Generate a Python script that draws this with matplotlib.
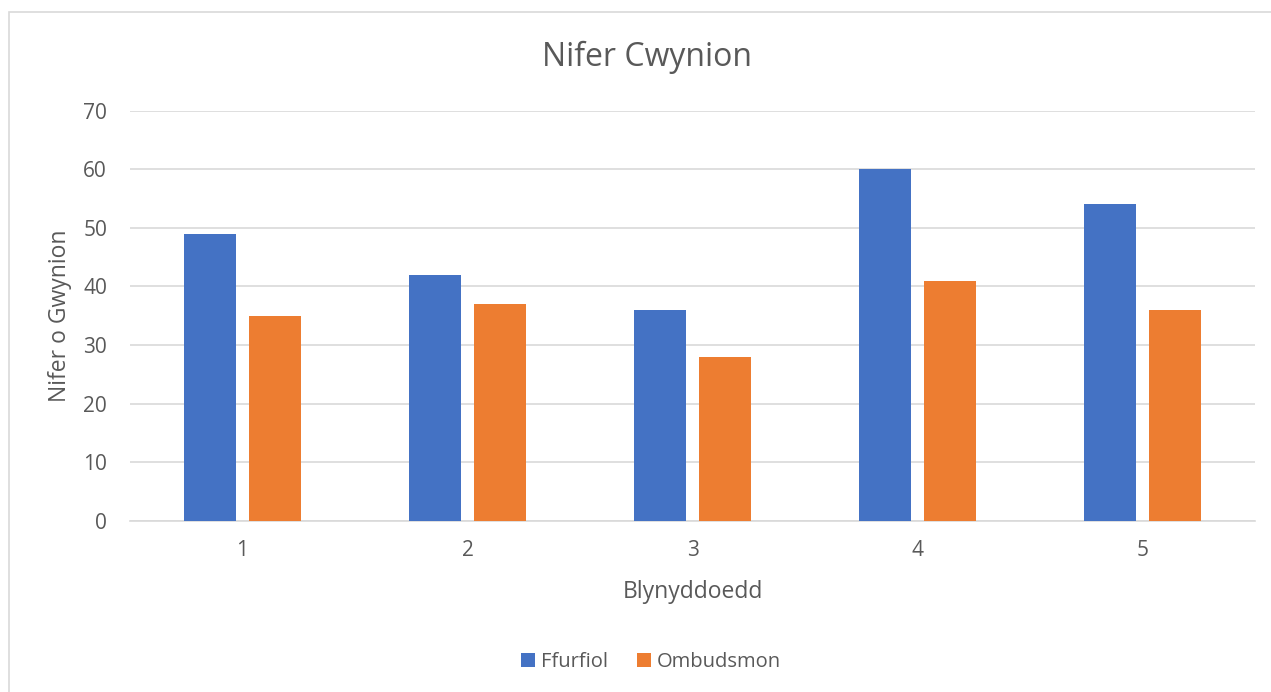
import matplotlib.pyplot as plt
import numpy as np
from matplotlib.patches import Rectangle

plt.rcParams["font.family"] = ["Open Sans", "DejaVu Sans"]

years = ["1", "2", "3", "4", "5"]
ffurfiol = [49, 42, 36, 60, 54]
ombudsmon = [35, 37, 28, 41, 36]
y_ticks = [0, 10, 20, 30, 40, 50, 60, 70]

BLUE = "#4472C4"
ORANGE = "#ED7D31"
GRID = "#D9D9D9"
TEXT = "#595959"

W, H = 1271, 692
fig = plt.figure(figsize=(W / 100, H / 100), dpi=100)

# chart frame (cut off on right/bottom like the reference)
fig.patches.append(
    Rectangle((9 / W, -0.1), 1.2, 1 - 12 / H + 0.1, transform=fig.transFigure,
              fill=False, edgecolor=GRID, linewidth=1.2)
)

ax = fig.add_axes([130 / W, 1 - 520.7 / H, (1255 - 130) / W, (520.7 - 110.7) / H])

x = np.arange(len(years))
width = 0.227
offset = 0.1445
ax.bar(x - offset, ffurfiol, width, color=BLUE, label="Ffurfiol", zorder=3)
ax.bar(x + offset, ombudsmon, width, color=ORANGE, label="Ombudsmon", zorder=3)

ax.set_xlim(-0.5, len(years) - 0.5)
ax.set_ylim(0, 70)
ax.set_yticks(y_ticks)
ax.set_xticks(x)
ax.set_xticklabels(years)
ax.yaxis.grid(True, color=GRID, linewidth=1.2, zorder=0)
for s in ["top", "right", "left"]:
    ax.spines[s].set_visible(False)
ax.spines["bottom"].set_color(GRID)
ax.spines["bottom"].set_linewidth(1.2)
ax.tick_params(axis="both", length=0, labelsize=15, labelcolor=TEXT)
ax.tick_params(axis="y", pad=16.5)
ax.tick_params(axis="x", pad=14)

ax.set_xlabel("Blynyddoedd", fontsize=16.5, color=TEXT, va="center")
ax.set_ylabel("Nifer o Gwynion", fontsize=16.5, color=TEXT, va="center")
ax.xaxis.set_label_coords(0.5, (520.7 - 592) / 410)
ax.yaxis.set_label_coords((60 - 130) / 1125, 0.5)

fig.text(647 / W, 1 - 57 / H, "Nifer Cwynion", fontsize=23, color=TEXT,
         ha="center", va="center")

fig.legend(loc="center", bbox_to_anchor=(651 / W, 1 - 662 / H), ncol=2,
           frameon=False, fontsize=14.5, labelcolor=TEXT, handlelength=0.7,
           handleheight=0.7, handletextpad=0.3, columnspacing=1.4)

fig.savefig("out.png", dpi=100)
